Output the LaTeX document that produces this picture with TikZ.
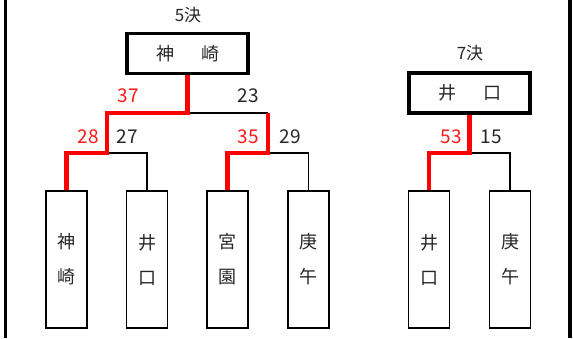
\documentclass[tikz,border=0pt]{standalone}
\usepackage{fontspec}
\setmainfont{Noto Sans CJK JP}
\begin{document}
\begin{tikzpicture}[x=1pt,y=-1pt,
  entry/.style={draw=black,line width=1.8pt,minimum width=41pt,minimum height=137pt,inner sep=0pt,align=center,font=\fontsize{18}{35}\selectfont,text=black!85},
  winner/.style={draw=black,line width=3.3pt,minimum width=121pt,minimum height=40pt,inner sep=0pt,font=\fontsize{18}{20}\selectfont,text=black!85},
  win/.style={red,line width=4.5pt},
  lose/.style={black,line width=1.8pt},
  title/.style={font=\fontsize{17}{18}\selectfont,text=black!85},
  wscore/.style={font=\fontsize{19}{20}\selectfont,text=red!90},
  lscore/.style={font=\fontsize{19}{20}\selectfont,text=black!85},
  frame/.style={black,line width=3.3pt}]
\useasboundingbox (0,0) rectangle (573,338);
\draw[frame] (5.5,0) -- (5.5,338);
\draw[frame] (570,0) -- (570,338);
% bottom entries
\node[entry] (A) at (66.5,259.5) {神\\崎};
\node[entry] (B) at (147,259.5) {井\\口};
\node[entry] (C) at (227.5,259.5) {宮\\園};
\node[entry] (D) at (308.5,259.5) {庚\\午};
\node[entry] (E) at (429,259.5) {井\\口};
\node[entry] (F) at (510,259.5) {庚\\午};
% winners
\node[winner] (W1) at (187.5,53.5) {神\hspace{27pt}崎};
\node[winner] (W2) at (469.5,93) {井\hspace{27pt}口};
\node[title] (T1) at (188,15) {5決};
\node[title] (T2) at (470,53) {7決};
% junctions
\coordinate (ab) at (107,153);
\coordinate (cd) at (268,153);
\coordinate (abcd) at (187.5,113);
\coordinate (ef) at (469.5,153);
% losers
\draw[lose] (ab) -| (B.north);
\draw[lose] (cd) -| (D.north);
\draw[lose,line width=1.4pt] (abcd) -- (cd |- abcd);
\draw[lose] (ef) -| (F.north);
% winners path
\draw[win] (A.north) |- (ab) |- (abcd) -- (W1.south);
\draw[win] (C.north) |- (cd) -- (cd |- abcd);
\draw[win] (E.north) |- (ef) -- (W2.south);
% scores
\node[wscore] (s37) at (128,96) {37};
\node[lscore] (s23) at (248,96) {23};
\node[wscore] (s28) at (88,137) {28};
\node[lscore] (s27) at (127,137) {27};
\node[wscore] (s35) at (248,137) {35};
\node[lscore] (s29) at (290,137) {29};
\node[wscore] (s53) at (451,137) {53};
\node[lscore] (s15) at (491,137) {15};
\end{tikzpicture}
\end{document}
